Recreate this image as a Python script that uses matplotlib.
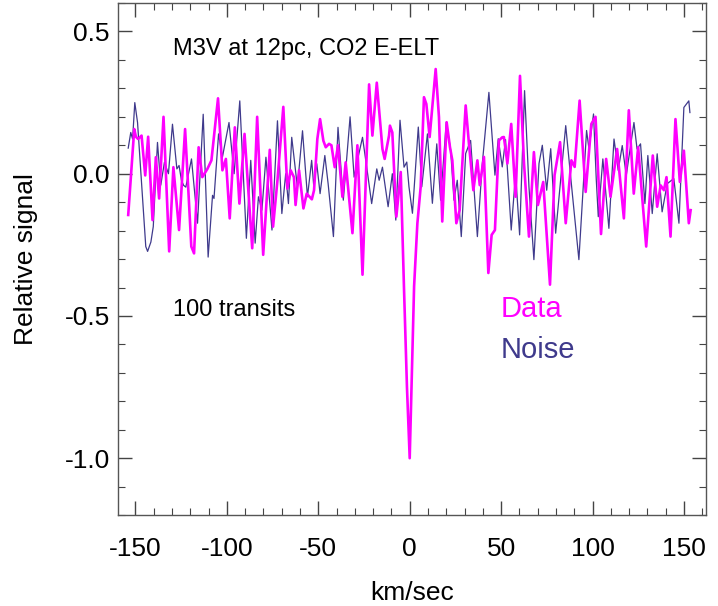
import matplotlib
matplotlib.use("Agg")
import matplotlib.pyplot as plt
from matplotlib.ticker import MultipleLocator

plt.rcParams['font.family'] = ['Liberation Sans', 'DejaVu Sans']

# --- dane (km/s, sygnał względny) ---
data_v = [-153.9, -150.6, -149.7, -148.5, -146.6, -144.6, -143.0, -140.6, -138.8, -137.0,
          -134.6, -131.5, -129.2, -126.1, -122.8, -119.4, -117.9, -115.4, -113.4, -110.6,
          -108.4, -104.8, -102.4, -100.5, -98.4, -95.6, -93.1, -90.3, -86.1, -83.4,
          -80.1, -76.5, -74.7, -72.3, -69.1, -66.9, -65.1, -63.3, -62.4, -60.5,
          -58.1, -56.3, -53.5, -52.3, -50.5, -49.0, -47.2, -45.9, -44.1, -42.8,
          -41.0, -39.2, -36.8, -35.0, -31.3, -28.6, -25.8, -22.2, -20.4, -18.0,
          -14.9, -13.7, -11.3, -10.8, -9.5, -7.3, -4.9, -3.1, -1.5, 0.0,
          1.2, 2.4, 4.2, 6.0, 7.8, 9.1, 10.9, 14.2, 16.0, 17.8,
          20.2, 22.0, 23.3, 25.5, 27.3, 30.6, 32.4, 34.8, 37.0, 38.3,
          40.6, 43.0, 44.8, 46.6, 48.8, 50.6, 51.5, 53.4, 55.5, 57.9,
          60.3, 62.5, 65.2, 67.9, 70.1, 73.0, 76.7, 79.2, 82.2, 85.3,
          88.4, 90.2, 92.9, 96.2, 99.3, 101.6, 104.6, 107.4, 109.8, 113.4,
          117.1, 119.8, 122.5, 124.9, 129.3, 132.9, 135.3, 137.2, 139.0, 140.4,
          142.6, 145.3, 147.7, 149.9, 152.6, 153.6]
data_s = [-0.145, 0.157, 0.130, 0.122, 0.134, -0.006, 0.130, -0.163, 0.058, -0.087,
          0.200, -0.273, 0.023, -0.198, 0.157, -0.256, -0.280, 0.093, -0.012, 0.017,
          0.047, 0.265, 0.012, 0.052, -0.157, 0.163, -0.105, 0.140, -0.262, 0.200,
          -0.285, 0.084, -0.186, -0.023, 0.235, -0.052, 0.012, -0.012, -0.110, 0.012,
          -0.122, -0.070, -0.090, -0.058, 0.122, 0.192, 0.116, 0.093, 0.105, 0.100,
          0.023, 0.100, -0.081, 0.040, -0.209, 0.100, -0.355, 0.314, 0.134, 0.320,
          0.087, 0.052, 0.134, 0.169, 0.145, -0.151, 0.006, -0.407, -0.750, -1.000,
          -0.700, -0.396, -0.174, -0.046, 0.269, 0.245, 0.129, 0.368, 0.199, -0.168,
          0.181, 0.094, 0.047, -0.174, -0.128, 0.240, 0.105, -0.058, 0.047, -0.040,
          0.059, -0.349, -0.215, -0.198, 0.117, 0.128, 0.129, 0.036, 0.175, -0.081,
          0.344, 0.036, -0.221, 0.076, -0.110, -0.029, -0.390, -0.005, 0.111, -0.174,
          0.047, 0.024, 0.257, -0.064, 0.175, 0.200, -0.212, 0.052, -0.081, 0.087,
          -0.157, 0.223, -0.070, 0.093, -0.256, 0.064, -0.116, -0.041, -0.058, -0.012,
          -0.221, 0.192, -0.029, 0.081, -0.174, -0.128]

noise_v = [-153.9, -152.5, -151.5, -150.3, -148.8, -144.3, -143.3, -141.5, -140.2, -137.9,
           -136.1, -134.1, -131.9, -129.7, -127.3, -126.1, -124.8, -123.6, -122.4, -119.3,
           -116.0, -112.9, -110.2, -107.8, -107.0, -104.5, -102.4, -98.8, -96.0, -92.9,
           -89.3, -86.9, -84.5, -82.7, -80.8, -78.6, -75.3, -72.3, -69.9, -67.8,
           -66.3, -64.5, -61.4, -58.6, -55.9, -53.6, -52.5, -50.8, -49.0, -46.4,
           -44.6, -41.7, -39.2, -36.3, -32.6, -30.4, -28.2, -25.8, -23.5, -20.8,
           -18.0, -16.7, -14.9, -11.8, -9.5, -7.6, -5.3, -3.1, -1.6, -0.4,
           1.5, 4.7, 6.6, 9.7, 12.4, 14.8, 16.9, 20.0, 22.4, 24.2,
           26.0, 28.2, 30.6, 33.3, 35.2, 37.0, 39.7, 43.3, 46.6, 48.4,
           50.6, 52.4, 55.5, 57.9, 60.1, 62.8, 65.2, 67.9, 70.7, 72.5,
           74.9, 77.1, 79.8, 85.3, 88.0, 92.5, 96.7, 98.0, 100.5, 102.0,
           103.1, 105.6, 108.9, 111.7, 114.0, 116.2, 118.4, 122.6, 124.3, 126.2,
           128.6, 130.2, 132.6, 135.3, 138.0, 140.8, 144.4, 147.2, 149.9, 151.2,
           152.6, 153.2]
noise_s = [0.090, 0.145, 0.122, 0.250, 0.180, -0.256, -0.273, -0.240, -0.186, 0.110,
           -0.040, 0.040, 0.000, 0.174, 0.017, 0.029, -0.023, -0.041, -0.047, 0.052,
           -0.174, 0.209, -0.293, -0.076, -0.087, 0.140, 0.058, 0.180, 0.000, 0.256,
           -0.227, 0.047, -0.244, -0.081, -0.128, 0.058, -0.198, 0.186, -0.140, 0.000,
           -0.105, 0.128, -0.047, 0.151, -0.081, 0.047, -0.040, 0.035, -0.070, 0.064,
           -0.035, -0.221, 0.163, -0.093, 0.200, -0.012, 0.058, 0.128, 0.023, -0.105,
           0.017, -0.023, 0.023, -0.116, 0.000, -0.163, 0.188, 0.023, 0.041, -0.046,
           -0.139, 0.164, -0.046, 0.140, -0.104, 0.105, -0.093, 0.181, 0.082, -0.093,
           -0.023, -0.221, 0.071, 0.117, -0.058, -0.221, 0.036, 0.286, -0.005, 0.123,
           0.024, 0.120, -0.198, 0.000, -0.215, 0.292, -0.046, -0.302, 0.036, 0.100,
           -0.058, 0.088, -0.209, 0.169, -0.011, -0.302, 0.152, 0.088, 0.210, -0.020,
           -0.151, 0.052, -0.192, 0.122, 0.012, 0.099, -0.006, 0.180, 0.087, 0.105,
           -0.105, 0.064, -0.140, 0.070, -0.134, -0.035, -0.017, -0.174, 0.233, 0.244,
           0.256, 0.215]

x_ticks = [-150, -100, -50, 0, 50, 100, 150]
y_ticks = [-1.0, -0.5, 0.0, 0.5]

magenta = "#ff00ff"
navy = "#3f3a8c"

fig = plt.figure(figsize=(7.18, 6.06), dpi=100)
ax = fig.add_axes([0.1643, 0.150, 0.819, 0.845])

ax.plot(noise_v, noise_s, color=navy, lw=0.9, solid_joinstyle="round")
ax.plot(data_v, data_s, color=magenta, lw=1.9, solid_joinstyle="round")

ax.set_xlim(-159.5, 162)
ax.set_ylim(-1.2, 0.6)
ax.set_xticks(x_ticks)
ax.set_xticklabels([str(t) for t in x_ticks])
ax.set_yticks(y_ticks)
ax.set_yticklabels(["%.1f" % t for t in y_ticks])
ax.xaxis.set_minor_locator(MultipleLocator(10))
ax.yaxis.set_minor_locator(MultipleLocator(0.1))

ax.tick_params(which="both", direction="in", top=True, right=True, colors="#444444",
               labelcolor="black", labelsize=19)
ax.tick_params(which="major", length=10, width=1)
ax.tick_params(which="minor", length=5, width=0.8)
ax.tick_params(axis="x", which="major", pad=16)
ax.tick_params(axis="y", which="major", pad=6)
for sp in ax.spines.values():
    sp.set_color("#555555")
    sp.set_linewidth(1)

ax.set_xlabel("km/sec", fontsize=19, labelpad=14)
ax.set_ylabel("Relative signal", fontsize=19, labelpad=19)

ax.text(-129.5, 0.44, "M3V at 12pc, CO2 E-ELT", fontsize=17, va="center", ha="left")
ax.text(-129.5, -0.48, "100 transits", fontsize=17, va="center", ha="left")
ax.text(49.7, -0.477, "Data", fontsize=21, color=magenta, va="center", ha="left")
ax.text(49.7, -0.62, "Noise", fontsize=21, color=navy, va="center", ha="left")

fig.savefig("out.png", dpi=100)
